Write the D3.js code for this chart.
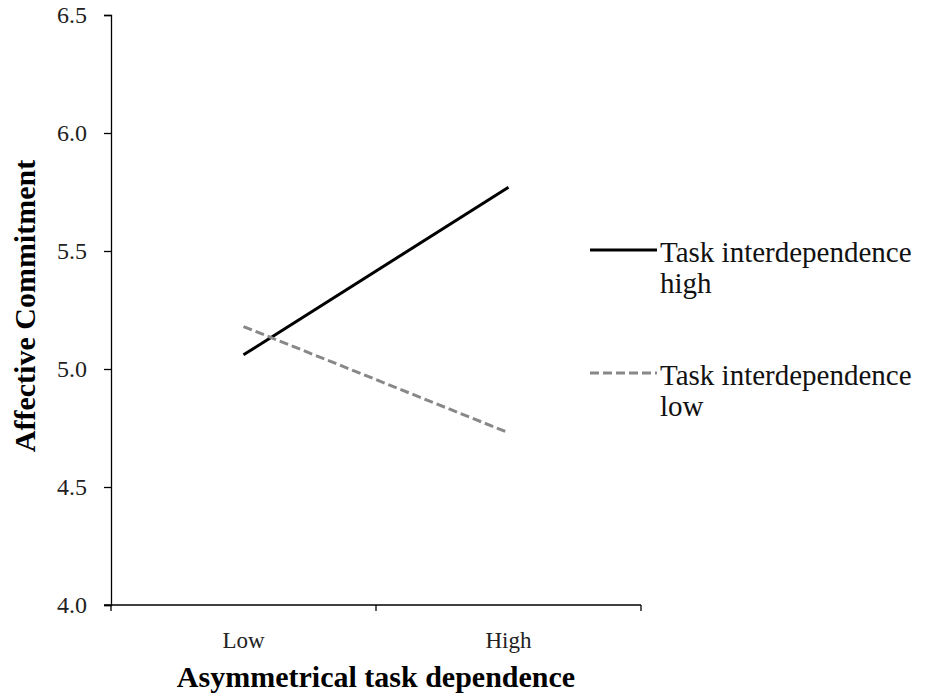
<!DOCTYPE html>
<html>
<head>
<meta charset="utf-8">
<style>
  body { margin: 0; background: #fff; }
  text { font-family: "Liberation Serif", "Times New Roman", serif; }
</style>
</head>
<body>
<svg width="926" height="700"></svg>
<script src="https://cdn.jsdelivr.net/npm/d3@7"></script>
<script>
// data
var categories = ["Low", "High"];
var seriesNames = ["Task interdependence high", "Task interdependence low"];
var highValues = [5.06, 5.77];
var lowValues = [5.18, 4.73];
var yTicks = [4.0, 4.5, 5.0, 5.5, 6.0, 6.5];

var svg = d3.select("svg"),
    margin = {top: 15, right: 285, bottom: 95, left: 111},
    width = +svg.attr("width") - margin.left - margin.right,
    height = +svg.attr("height") - margin.top - margin.bottom,
    g = svg.append("g").attr("transform", "translate(" + margin.left + "," + margin.top + ")");

var x = d3.scaleBand().domain(categories).range([0, width]);
var y = d3.scaleLinear().domain([4.0, 6.5]).range([height, 0]);

// y axis (lines from d3.axisLeft, labels drawn separately)
var yAxis = g.append("g")
    .call(d3.axisLeft(y).tickValues(yTicks).tickFormat("").tickSize(7));
yAxis.select(".domain").attr("stroke", "#000").attr("stroke-width", 1.3);
yAxis.selectAll(".tick line").attr("stroke-width", 1.3);

var fmt = d3.format(".1f");
g.append("g").selectAll("text").data(yTicks).enter().append("text")
    .attr("x", -24)
    .attr("y", function(d) { return y(d) + 8; })
    .attr("text-anchor", "end")
    .style("font-size", "24px")
    .attr("fill", "#222")
    .text(function(d) { return fmt(d); });

// x axis: ticks at the band boundaries
var xAxisG = g.append("g").attr("transform", "translate(0," + height + ")");
xAxisG.append("line").attr("x1", -7).attr("x2", width).attr("stroke", "#000").attr("stroke-width", 1.3);
var bounds = [0].concat(categories.map(function(c) { return x(c) + x.bandwidth(); }));
xAxisG.selectAll(".xt").data(bounds).enter().append("line")
    .attr("x1", function(d) { return d; }).attr("x2", function(d) { return d; })
    .attr("y1", 0).attr("y2", 6).attr("stroke", "#000").attr("stroke-width", 1.3);
xAxisG.selectAll(".xl").data(categories).enter().append("text")
    .attr("x", function(d) { return x(d) + x.bandwidth() / 2; })
    .attr("y", 43)
    .attr("text-anchor", "middle")
    .style("font-size", "23px").attr("fill", "#222")
    .text(function(d) { return d; });

// axis titles
svg.append("text")
    .attr("x", margin.left + width / 2).attr("y", 687)
    .attr("text-anchor", "middle")
    .style("font-size", "30px").attr("font-weight", "bold")
    .text("Asymmetrical task dependence");

svg.append("text")
    .attr("transform", "translate(35,306) rotate(-90)")
    .attr("text-anchor", "middle")
    .style("font-size", "30px").attr("font-weight", "bold")
    .text("Affective Commitment");

// lines
var line = d3.line()
    .x(function(d, i) { return x(categories[i]) + x.bandwidth() / 2; })
    .y(function(d) { return y(d); });

g.append("path").datum(highValues)
    .attr("d", line).attr("fill", "none")
    .attr("stroke", "#000").attr("stroke-width", 3);

g.append("path").datum(lowValues)
    .attr("d", line).attr("fill", "none")
    .attr("stroke", "#888").attr("stroke-width", 3)
    .attr("stroke-dasharray", "9,4");

// legend
var legend = svg.append("g").attr("transform", "translate(590,0)");
var legendItems = [
  {name: seriesNames[0], y: 250, color: "#000", dash: null},
  {name: seriesNames[1], y: 373, color: "#888", dash: "9,4"}
];
legendItems.forEach(function(d) {
  legend.append("line")
    .attr("x1", 0).attr("x2", 67).attr("y1", d.y).attr("y2", d.y)
    .attr("stroke", d.color).attr("stroke-width", 3)
    .attr("stroke-dasharray", d.dash);
  var words = d.name.split(" ");
  var t = legend.append("text").attr("x", 70).attr("y", d.y + 12)
    .style("font-size", "29px").attr("fill", "#111");
  t.append("tspan").attr("x", 70).text(words.slice(0, 2).join(" "));
  t.append("tspan").attr("x", 70).attr("dy", 31).text(words[2]);
});
</script>
</body>
</html>
